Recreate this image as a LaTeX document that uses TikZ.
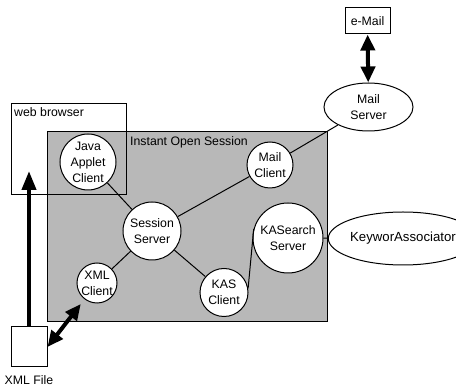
\documentclass[tikz,border=0pt]{standalone}
\usepackage{fontspec}
\setmainfont{Liberation Sans}
\usetikzlibrary{arrows.meta,shapes.geometric}
\begin{document}
\begin{tikzpicture}[x=1pt,y=-1pt,
  txt/.style={font=\fontsize{12.3}{16}\selectfont, align=center},
  circ/.style={circle, draw, fill=white, inner sep=0pt, txt, line width=1pt},
  oval/.style={ellipse, draw, fill=white, inner sep=0pt, txt, line width=1pt},
  box/.style={rectangle, draw, inner sep=0pt, line width=1pt},
  conn/.style={line width=1pt},
  bigtwo/.style={line width=4pt, {Triangle[length=16pt,width=14pt]}-{Triangle[length=16pt,width=14pt]}},
  bigone/.style={line width=4pt, -{Triangle[length=19pt,width=14pt]}}
]
\useasboundingbox (0,0) rectangle (456,387);
% Instant Open Session area
\node[box, fill=black!28, minimum width=280pt, minimum height=190pt, anchor=north west] (ios) at (47,131) {};
\node[txt, anchor=north west, inner sep=0pt] (iosl) at (130,136) {Instant Open Session};
% web browser
\node[box, minimum width=115pt, minimum height=91pt, anchor=north west] (wb) at (11,103) {};
\node[txt, anchor=north west, inner sep=0pt] (wbl) at (14,107) {web browser};
% nodes
\node[circ, minimum size=56pt] (java) at (88,162) {Java\\Applet\\Client};
\node[circ, minimum size=58pt] (sess) at (152,231) {Session\\Server};
\node[circ, minimum size=46pt] (mailc) at (270,165) {Mail\\Client};
\node[oval, minimum width=89pt, minimum height=48pt] (mails) at (368.5,107) {Mail\\Server};
\node[box, fill=white, minimum width=45pt, minimum height=26pt, txt] (email) at (367.5,21) {e-Mail};
\node[circ, minimum size=70pt] (kass) at (288,238) {KASearch\\Server};
\node[oval, minimum width=128pt, minimum height=53pt, font=\fontsize{13.2}{15}\selectfont] (keyw) at (403,238.5) {KeyworAssociator};
\node[circ, minimum size=48pt] (kasc) at (224,292.5) {KAS\\Client};
\node[circ, minimum size=40pt] (xmlc) at (97,283) {XML\\Client};
\node[box, fill=white, minimum width=36pt, minimum height=40pt] (xmlf) at (29,347) {};
\node[txt] (xmlfl) at (29,380) {XML File};
\coordinate (tip) at (29,171);
% connectors
\draw[conn] (java) -- (sess);
\draw[conn] (sess) -- (mailc);
\draw[conn] (mailc) -- (mails);
\draw[conn] (sess) -- (xmlc);
\draw[conn] (sess) -- (kasc);
\draw[conn] (kasc.10) -- (kass.165);
\draw[conn] (kass) -- (keyw);
\draw[bigtwo] (email) -- (mails);
\draw[bigone] (xmlf) -- (tip);
\draw[bigtwo, shorten >=6pt] (xmlf.east) -- (xmlc);
\end{tikzpicture}
\end{document}
